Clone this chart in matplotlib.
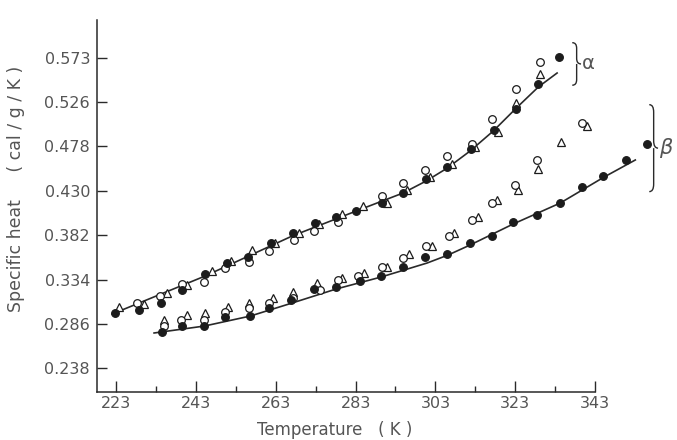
import matplotlib
matplotlib.use("Agg")
import matplotlib.pyplot as plt
from matplotlib.path import Path
from matplotlib.patches import PathPatch

# ---------------- data ----------------
# alpha series
alpha_filled_T = [222.7, 228.6, 234.3, 239.6, 245.3, 250.7, 256.1, 261.8, 267.3, 272.9, 278.1,
                  283.2, 289.6, 295.0, 300.7, 305.9, 311.9, 317.6, 323.3, 328.8, 334.0]
alpha_filled_c = [0.2975, 0.3010, 0.3089, 0.3226, 0.3399, 0.3515, 0.3586, 0.3738, 0.3846, 0.3948, 0.4019,
                  0.4084, 0.4170, 0.4278, 0.4423, 0.4559, 0.4751, 0.4956, 0.5180, 0.5450, 0.5742]
alpha_open_T = [228.2, 234.0, 239.5, 245.1, 250.3, 256.3, 261.3, 267.6, 272.7, 278.5,
                289.6, 295.0, 300.4, 305.9, 312.2, 317.2, 323.3, 329.1]
alpha_open_c = [0.3083, 0.3162, 0.3291, 0.3310, 0.3461, 0.3532, 0.3651, 0.3767, 0.3868, 0.3965,
                0.4243, 0.4380, 0.4524, 0.4675, 0.4810, 0.5078, 0.5396, 0.5695]
alpha_tri_T = [223.8, 230.1, 235.7, 240.7, 247.0, 251.8, 257.0, 262.8, 268.7, 273.9, 279.6,
               284.8, 290.8, 295.9, 301.7, 307.1, 313.0, 318.8, 323.3, 329.1]
alpha_tri_c = [0.3046, 0.3075, 0.3197, 0.3281, 0.3435, 0.3543, 0.3659, 0.3731, 0.3839, 0.3940, 0.4048,
               0.4135, 0.4170, 0.4308, 0.4445, 0.4589, 0.4776, 0.4931, 0.5245, 0.5558]
alpha_fit_T = [222.0, 245.3, 267.1, 283.2, 294.9, 300.7, 306.0, 311.7, 317.5, 323.3, 328.8, 333.5]
alpha_fit_c = [0.2967, 0.3378, 0.3810, 0.4081, 0.4275, 0.4405, 0.4545, 0.4729, 0.4945, 0.5194, 0.5421, 0.5572]

# beta series
beta_filled_T = [234.5, 239.6, 244.9, 250.3, 256.5, 261.3, 266.9, 272.7, 278.1, 284.0, 289.3, 294.9,
                 300.4, 306.0, 311.7, 317.2, 322.4, 328.4, 334.3, 339.7, 345.1, 350.8, 356.0]
beta_filled_c = [0.2776, 0.2837, 0.2837, 0.2938, 0.2949, 0.3029, 0.3118, 0.3234, 0.3256, 0.3327, 0.3378, 0.3478,
                 0.3586, 0.3612, 0.3738, 0.3814, 0.3965, 0.4037, 0.4164, 0.4337, 0.4459, 0.4632, 0.4805]
beta_open_T = [234.9, 239.3, 245.1, 250.3, 256.2, 261.3, 267.4, 274.0, 278.5, 283.7, 289.6, 295.0,
               300.7, 306.3, 312.1, 317.2, 323.0, 328.4, 339.7]
beta_open_c = [0.2837, 0.2902, 0.2902, 0.2992, 0.3029, 0.3083, 0.3140, 0.3226, 0.3335, 0.3378, 0.3478, 0.3569,
               0.3702, 0.3810, 0.3983, 0.4164, 0.4362, 0.4632, 0.5029]
beta_tri_T = [235.1, 240.7, 245.3, 251.0, 256.3, 262.4, 267.4, 273.3, 279.6, 285.0, 290.8, 296.3,
              302.1, 307.7, 313.8, 318.4, 323.7, 328.7, 334.5, 341.0]
beta_tri_c = [0.2902, 0.2956, 0.2975, 0.3039, 0.3083, 0.3137, 0.3208, 0.3299, 0.3353, 0.3407, 0.3478, 0.3616,
              0.3702, 0.3839, 0.4012, 0.4199, 0.4308, 0.4531, 0.4830, 0.4999]
beta_fit_T = [232.5, 245.1, 256.6, 267.1, 278.1, 289.4, 300.9, 306.2, 311.7, 322.5, 334.3, 345.3, 353.1]
beta_fit_c = [0.2762, 0.2837, 0.2945, 0.3086, 0.3237, 0.3367, 0.3518, 0.3605, 0.3713, 0.3940, 0.4167, 0.4448, 0.4632]

x_ticks = [223, 243, 263, 283, 303, 323, 343]
x_minor = [233, 253, 273, 293, 313, 333]
y_ticks = [0.238, 0.286, 0.334, 0.382, 0.430, 0.478, 0.526, 0.573]
y_ticklabels = ["0.238", "0.286", "0.334", "0.382", "0.430", "0.478", "0.526", "0.573"]

# ---------------- figure ----------------
plt.rcParams['font.family'] = ['DejaVu Sans']
TXT = '#555555'
LINE = '#2a2a2a'
MK = '#1c1c1c'

fig = plt.figure(figsize=(6.77, 4.40), dpi=100)
fig.patch.set_facecolor('white')
W, H = 677, 440
ax = fig.add_axes([97 / W, 1 - 392.3 / H, (595 - 97) / W, (392.3 - 20) / H])
ax.set_xlim(218.2, 343)
ax.set_ylim(0.2121, 0.6145)

for s in ('top', 'right'):
    ax.spines[s].set_visible(False)
for s in ('left', 'bottom'):
    ax.spines[s].set_color(LINE)
    ax.spines[s].set_linewidth(1.1)

ax.set_xticks(x_ticks)
ax.set_xticks(x_minor, minor=True)
ax.set_yticks(y_ticks)
ax.set_yticklabels(y_ticklabels)
ax.tick_params(axis='x', which='major', direction='in', length=8, width=1.0, color=LINE,
               labelsize=11.5, labelcolor=TXT, pad=3)
ax.tick_params(axis='x', which='minor', direction='in', length=4.5, width=1.0, color=LINE)
ax.tick_params(axis='y', which='major', direction='in', length=7, width=1.0, color=LINE,
               labelsize=11.5, labelcolor=TXT, pad=5)

# fitted curves
ax.plot(alpha_fit_T, alpha_fit_c, color=LINE, lw=1.2, clip_on=False, zorder=2)
ax.plot(beta_fit_T, beta_fit_c, color=LINE, lw=1.2, clip_on=False, zorder=2)

ms = 5.5
for T, c in ((alpha_tri_T, alpha_tri_c), (beta_tri_T, beta_tri_c)):
    ax.plot(T, c, ls='none', marker='^', ms=ms + 0.5, mfc='white', mec=MK, mew=0.9,
            clip_on=False, zorder=3)
for T, c in ((alpha_open_T, alpha_open_c), (beta_open_T, beta_open_c)):
    ax.plot(T, c, ls='none', marker='o', ms=ms, mfc='white', mec=MK, mew=0.9,
            clip_on=False, zorder=4)
for T, c in ((alpha_filled_T, alpha_filled_c), (beta_filled_T, beta_filled_c)):
    ax.plot(T, c, ls='none', marker='o', ms=ms, mfc=MK, mec=MK, mew=0.9,
            clip_on=False, zorder=5)


def brace(x0, y_top, y_bot, w, r):
    ym = 0.5 * (y_top + y_bot)
    xm = x0 + w / 2
    verts = [(x0, y_top), (xm, y_top), (xm, y_top - r),
             (xm, ym + r),
             (xm, ym), (x0 + w, ym),
             (xm, ym), (xm, ym - r),
             (xm, y_bot + r),
             (xm, y_bot), (x0, y_bot)]
    codes = [Path.MOVETO, Path.CURVE3, Path.CURVE3,
             Path.LINETO,
             Path.CURVE3, Path.CURVE3,
             Path.MOVETO, Path.CURVE3,
             Path.LINETO,
             Path.CURVE3, Path.CURVE3]
    ax.add_patch(PathPatch(Path(verts, codes), fill=False, ec=LINE, lw=1.0, clip_on=False))


brace(337.3, 0.590, 0.544, 2.2, 0.006)
ax.text(339.8, 0.567, 'α', fontsize=14, color=TXT, va='center', ha='left')
brace(356.6, 0.523, 0.429, 2.2, 0.008)
ax.text(359.0, 0.476, 'β', fontsize=15, color=TXT, va='center', ha='left', style='italic')

fig.text(335 / W, 1 - 430 / H, 'Temperature   ( K )', fontsize=12, color=TXT,
         ha='center', va='center')
fig.text(16 / W, 1 - 189 / H, 'Specific heat     ( cal / g / K )', fontsize=12.5, color=TXT,
         ha='center', va='center', rotation=90)

fig.savefig('out.png', dpi=100, facecolor='white')
